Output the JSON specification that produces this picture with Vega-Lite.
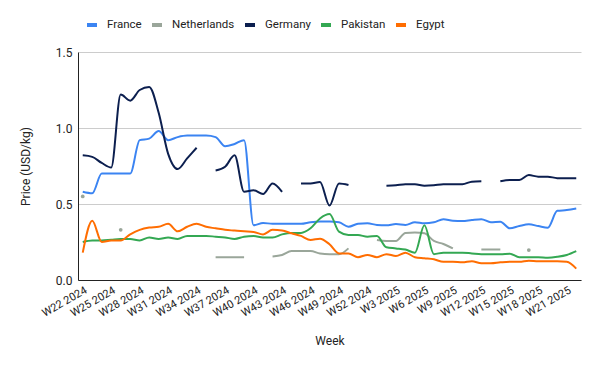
{
  "$schema": "https://vega.github.io/schema/vega-lite/v6.json",
  "width": 503,
  "height": 228,
  "autosize": {"type": "none"},
  "padding": {"left": 78, "top": 52, "right": 19, "bottom": 91},
  "background": "white",
  "config": {
    "font": "Roboto",
    "view": {"stroke": null},
    "axis": {"labelColor": "#222", "titleColor": "#222", "titleFontWeight": "normal", "titleFontSize": 12, "labelFontSize": 11}
  },
  "data": {
    "values": [
      {"week": "W22 2024", "France": 0.58, "Netherlands": 0.55, "Germany": 0.82, "Pakistan": 0.25, "Egypt": 0.18},
      {"week": "W23 2024", "France": 0.57, "Netherlands": null, "Germany": 0.81, "Pakistan": 0.26, "Egypt": 0.39},
      {"week": "W24 2024", "France": 0.70, "Netherlands": null, "Germany": 0.77, "Pakistan": 0.26, "Egypt": 0.25},
      {"week": "W25 2024", "France": 0.70, "Netherlands": null, "Germany": 0.74, "Pakistan": 0.265, "Egypt": 0.26},
      {"week": "W26 2024", "France": 0.70, "Netherlands": 0.33, "Germany": 1.22, "Pakistan": 0.27, "Egypt": 0.26},
      {"week": "W27 2024", "France": 0.70, "Netherlands": null, "Germany": 1.18, "Pakistan": 0.27, "Egypt": 0.30},
      {"week": "W28 2024", "France": 0.92, "Netherlands": null, "Germany": 1.25, "Pakistan": 0.26, "Egypt": 0.33},
      {"week": "W29 2024", "France": 0.93, "Netherlands": null, "Germany": 1.27, "Pakistan": 0.28, "Egypt": 0.345},
      {"week": "W30 2024", "France": 0.98, "Netherlands": null, "Germany": 1.10, "Pakistan": 0.27, "Egypt": 0.35},
      {"week": "W31 2024", "France": 0.92, "Netherlands": null, "Germany": 0.83, "Pakistan": 0.28, "Egypt": 0.37},
      {"week": "W32 2024", "France": 0.94, "Netherlands": null, "Germany": 0.73, "Pakistan": 0.27, "Egypt": 0.32},
      {"week": "W33 2024", "France": 0.95, "Netherlands": null, "Germany": 0.80, "Pakistan": 0.29, "Egypt": 0.35},
      {"week": "W34 2024", "France": 0.95, "Netherlands": null, "Germany": 0.87, "Pakistan": 0.29, "Egypt": 0.37},
      {"week": "W35 2024", "France": 0.95, "Netherlands": null, "Germany": null, "Pakistan": 0.29, "Egypt": 0.35},
      {"week": "W36 2024", "France": 0.94, "Netherlands": 0.15, "Germany": 0.72, "Pakistan": 0.285, "Egypt": 0.34},
      {"week": "W37 2024", "France": 0.88, "Netherlands": 0.15, "Germany": 0.745, "Pakistan": 0.28, "Egypt": 0.33},
      {"week": "W38 2024", "France": 0.895, "Netherlands": 0.15, "Germany": 0.82, "Pakistan": 0.27, "Egypt": 0.325},
      {"week": "W39 2024", "France": 0.92, "Netherlands": 0.15, "Germany": 0.58, "Pakistan": 0.285, "Egypt": 0.32},
      {"week": "W40 2024", "France": 0.36, "Netherlands": null, "Germany": 0.59, "Pakistan": 0.29, "Egypt": 0.316},
      {"week": "W41 2024", "France": 0.375, "Netherlands": null, "Germany": 0.565, "Pakistan": 0.28, "Egypt": 0.30},
      {"week": "W42 2024", "France": 0.37, "Netherlands": 0.155, "Germany": 0.635, "Pakistan": 0.28, "Egypt": 0.33},
      {"week": "W43 2024", "France": 0.37, "Netherlands": 0.165, "Germany": 0.58, "Pakistan": 0.30, "Egypt": 0.325},
      {"week": "W44 2024", "France": 0.37, "Netherlands": 0.19, "Germany": null, "Pakistan": 0.31, "Egypt": 0.307},
      {"week": "W45 2024", "France": 0.37, "Netherlands": 0.19, "Germany": 0.635, "Pakistan": 0.31, "Egypt": 0.29},
      {"week": "W46 2024", "France": 0.38, "Netherlands": 0.19, "Germany": 0.635, "Pakistan": 0.34, "Egypt": 0.263},
      {"week": "W47 2024", "France": 0.385, "Netherlands": 0.175, "Germany": 0.645, "Pakistan": 0.405, "Egypt": 0.272},
      {"week": "W48 2024", "France": 0.385, "Netherlands": 0.17, "Germany": 0.49, "Pakistan": 0.434, "Egypt": 0.235},
      {"week": "W49 2024", "France": 0.38, "Netherlands": 0.17, "Germany": 0.635, "Pakistan": 0.318, "Egypt": 0.175},
      {"week": "W50 2024", "France": 0.35, "Netherlands": 0.208, "Germany": 0.625, "Pakistan": 0.296, "Egypt": 0.175},
      {"week": "W51 2024", "France": 0.37, "Netherlands": null, "Germany": null, "Pakistan": 0.296, "Egypt": 0.15},
      {"week": "W52 2024", "France": 0.373, "Netherlands": null, "Germany": null, "Pakistan": 0.285, "Egypt": 0.165},
      {"week": "W1 2025", "France": 0.362, "Netherlands": 0.263, "Germany": null, "Pakistan": 0.29, "Egypt": 0.15},
      {"week": "W2 2025", "France": 0.36, "Netherlands": 0.257, "Germany": 0.62, "Pakistan": 0.215, "Egypt": 0.17},
      {"week": "W3 2025", "France": 0.368, "Netherlands": 0.257, "Germany": 0.623, "Pakistan": 0.208, "Egypt": 0.158},
      {"week": "W4 2025", "France": 0.362, "Netherlands": 0.31, "Germany": 0.63, "Pakistan": 0.20, "Egypt": 0.18},
      {"week": "W5 2025", "France": 0.38, "Netherlands": 0.313, "Germany": 0.63, "Pakistan": 0.18, "Egypt": 0.15},
      {"week": "W6 2025", "France": 0.373, "Netherlands": 0.307, "Germany": 0.62, "Pakistan": 0.36, "Egypt": 0.143},
      {"week": "W7 2025", "France": 0.38, "Netherlands": 0.257, "Germany": 0.623, "Pakistan": 0.17, "Egypt": 0.136},
      {"week": "W8 2025", "France": 0.40, "Netherlands": 0.237, "Germany": 0.63, "Pakistan": 0.18, "Egypt": 0.12},
      {"week": "W9 2025", "France": 0.39, "Netherlands": 0.208, "Germany": 0.63, "Pakistan": 0.18, "Egypt": 0.12},
      {"week": "W10 2025", "France": 0.388, "Netherlands": null, "Germany": 0.63, "Pakistan": 0.18, "Egypt": 0.116},
      {"week": "W11 2025", "France": 0.395, "Netherlands": null, "Germany": 0.647, "Pakistan": 0.175, "Egypt": 0.123},
      {"week": "W12 2025", "France": 0.40, "Netherlands": 0.20, "Germany": 0.65, "Pakistan": 0.17, "Egypt": 0.11},
      {"week": "W13 2025", "France": 0.38, "Netherlands": 0.20, "Germany": null, "Pakistan": 0.17, "Egypt": 0.11},
      {"week": "W14 2025", "France": 0.384, "Netherlands": 0.20, "Germany": 0.65, "Pakistan": 0.17, "Egypt": 0.116},
      {"week": "W15 2025", "France": 0.34, "Netherlands": null, "Germany": 0.658, "Pakistan": 0.173, "Egypt": 0.12},
      {"week": "W16 2025", "France": 0.355, "Netherlands": null, "Germany": 0.658, "Pakistan": 0.15, "Egypt": 0.12},
      {"week": "W17 2025", "France": 0.366, "Netherlands": 0.197, "Germany": 0.69, "Pakistan": 0.15, "Egypt": 0.127},
      {"week": "W18 2025", "France": 0.355, "Netherlands": null, "Germany": 0.68, "Pakistan": 0.15, "Egypt": 0.123},
      {"week": "W19 2025", "France": 0.344, "Netherlands": null, "Germany": 0.68, "Pakistan": 0.147, "Egypt": 0.123},
      {"week": "W20 2025", "France": 0.455, "Netherlands": null, "Germany": 0.67, "Pakistan": 0.153, "Egypt": 0.123},
      {"week": "W21 2025", "France": 0.46, "Netherlands": null, "Germany": 0.67, "Pakistan": 0.165, "Egypt": 0.12},
      {"week": "W22 2025", "France": 0.47, "Netherlands": null, "Germany": 0.67, "Pakistan": 0.19, "Egypt": 0.075}
    ]
  },
  "transform": [
    {"fold": ["France", "Netherlands", "Germany", "Pakistan", "Egypt"], "as": ["country", "price"]}
  ],
  "encoding": {
    "x": {
      "field": "week",
      "type": "ordinal",
      "scale": {
        "type": "point",
        "padding": 0.5,
        "domain": ["W22 2024","W23 2024","W24 2024","W25 2024","W26 2024","W27 2024","W28 2024","W29 2024","W30 2024","W31 2024","W32 2024","W33 2024","W34 2024","W35 2024","W36 2024","W37 2024","W38 2024","W39 2024","W40 2024","W41 2024","W42 2024","W43 2024","W44 2024","W45 2024","W46 2024","W47 2024","W48 2024","W49 2024","W50 2024","W51 2024","W52 2024","W1 2025","W2 2025","W3 2025","W4 2025","W5 2025","W6 2025","W7 2025","W8 2025","W9 2025","W10 2025","W11 2025","W12 2025","W13 2025","W14 2025","W15 2025","W16 2025","W17 2025","W18 2025","W19 2025","W20 2025","W21 2025","W22 2025"]
      },
      "axis": {
        "title": "Week",
        "values": ["W22 2024","W25 2024","W28 2024","W31 2024","W34 2024","W37 2024","W40 2024","W43 2024","W46 2024","W49 2024","W52 2024","W3 2025","W6 2025","W9 2025","W12 2025","W15 2025","W18 2025","W21 2025"],
        "labelAngle": -30,
        "ticks": false,
        "grid": false,
        "domainColor": "#222",
        "labelPadding": 4,
        "titlePadding": 17
      }
    },
    "y": {
      "field": "price",
      "type": "quantitative",
      "scale": {"domain": [0, 1.5]},
      "axis": {
        "title": "Price (USD/kg)",
        "values": [0, 0.5, 1, 1.5],
        "format": ".1f",
        "ticks": false,
        "domainColor": "#222",
        "gridColor": "#cccccc",
        "labelPadding": 6,
        "labelFontSize": 12,
        "titlePadding": 23
      }
    }
  },
  "layer": [
    {
      "mark": {"type": "line", "interpolate": "monotone", "strokeWidth": 2, "invalid": "break-paths-show-domains"},
      "encoding": {
        "color": {
          "field": "country",
          "type": "nominal",
          "scale": {
            "domain": ["France", "Netherlands", "Germany", "Pakistan", "Egypt"],
            "range": ["#3b84f2", "#9aa69a", "#0c1f4f", "#34a853", "#ff6d01"]
          },
          "legend": {
            "title": null,
            "orient": "none",
            "direction": "horizontal",
            "legendX": 7,
            "legendY": -34,
            "symbolType": "stroke",
            "symbolSize": 100,
            "symbolStrokeWidth": 4,
            "labelFontSize": 11.5,
            "labelColor": "#222",
            "labelOffset": 8,
            "columnPadding": 2
          }
        }
      }
    },
    {
      "transform": [
        {"window": [{"op": "lag", "field": "price", "as": "prev"}, {"op": "lead", "field": "price", "as": "next"}], "groupby": ["country"]},
        {"filter": "datum.price != null && datum.prev == null && datum.next == null"}
      ],
      "mark": {"type": "point", "filled": true, "size": 14, "opacity": 1},
      "encoding": {
        "fill": {
          "field": "country",
          "type": "nominal",
          "scale": {
            "domain": ["France", "Netherlands", "Germany", "Pakistan", "Egypt"],
            "range": ["#3b84f2", "#9aa69a", "#0c1f4f", "#34a853", "#ff6d01"]
          },
          "legend": null
        }
      }
    }
  ]
}
